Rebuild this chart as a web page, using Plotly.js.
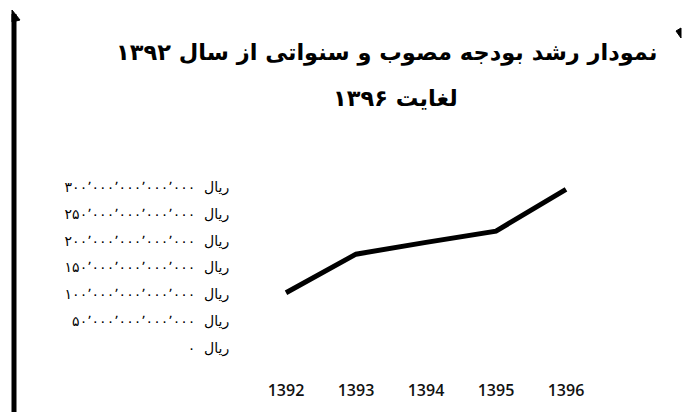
<!DOCTYPE html>
<html>
<head>
<meta charset="utf-8">
<script src="https://cdn.plot.ly/plotly-3.0.1.min.js"></script>
<style>html,body{margin:0;padding:0;background:#fff;}#chart{width:684px;height:412px;}</style>
</head>
<body>
<div id="chart"></div>
<script>
const years = ["1392", "1393", "1394", "1395", "1396"];
const budget = [103, 175, 197, 218, 296];
const yTickVals = [0, 50, 100, 150, 200, 250, 300];
const yTickText = [
  "ریال\u00a0\u00a0۰",
  "ریال\u00a0\u00a0۵۰٬۰۰۰٬۰۰۰٬۰۰۰٬۰۰۰",
  "ریال\u00a0\u00a0۱۰۰٬۰۰۰٬۰۰۰٬۰۰۰٬۰۰۰",
  "ریال\u00a0\u00a0۱۵۰٬۰۰۰٬۰۰۰٬۰۰۰٬۰۰۰",
  "ریال\u00a0\u00a0۲۰۰٬۰۰۰٬۰۰۰٬۰۰۰٬۰۰۰",
  "ریال\u00a0\u00a0۲۵۰٬۰۰۰٬۰۰۰٬۰۰۰٬۰۰۰",
  "ریال\u00a0\u00a0۳۰۰٬۰۰۰٬۰۰۰٬۰۰۰٬۰۰۰"
];
const titleLine1 = "نمودار رشد بودجه مصوب و سنواتی از سال ۱۳۹۲";
const titleLine2 = "لغایت ۱۳۹۶";

const trace = {
  x: years, y: budget, type: "scatter", mode: "lines",
  line: {color: "#000", width: 5}, hoverinfo: "skip"
};

const titleFont = {family: "DejaVu Sans", size: 22.5, color: "#000"};

const layout = {
  width: 684, height: 412,
  paper_bgcolor: "#fff", plot_bgcolor: "#fff",
  margin: {l: 251, r: 83, t: 170, b: 52},
  showlegend: false,
  xaxis: {
    type: "category", range: [-0.5, 4.5],
    showgrid: false, zeroline: false, showline: false,
    ticks: "outside", ticklen: 16, tickcolor: "rgba(0,0,0,0)",
    tickfont: {family: "Open Sans", size: 16, color: "#111", weight: 600}
  },
  yaxis: {
    range: [-22.4, 332],
    tickvals: yTickVals, ticktext: yTickText,
    showgrid: false, zeroline: false, showline: false,
    ticks: "outside", ticklen: 18, tickcolor: "rgba(0,0,0,0)",
    tickfont: {family: "DejaVu Sans", size: 14, color: "#000"}
  },
  annotations: [
    {text: "<b>" + titleLine1 + "</b>", xref: "paper", yref: "paper",
     x: (386 - 251) / 350, y: (360 - 52) / 190, xanchor: "center", yanchor: "middle",
     showarrow: false, font: titleFont},
    {text: "<b>" + titleLine2 + "</b>", xref: "paper", yref: "paper",
     x: (395 - 251) / 350, y: (360 - 98) / 190, xanchor: "center", yanchor: "middle",
     showarrow: false, font: titleFont}
  ],
  shapes: [
    {type: "line", xref: "paper", yref: "paper", x0: (14 - 251) / 350, x1: (14 - 251) / 350,
     y0: (360 - 412) / 190, y1: (360 - 14) / 190,
     line: {color: "#000", width: 5}},
    {type: "path", xref: "paper", yref: "paper",
     path: "M " + ((12 - 251) / 350) + " " + ((360 - 10) / 190) +
           " L " + ((20 - 251) / 350) + " " + ((360 - 20) / 190) +
           " L " + ((12 - 251) / 350) + " " + ((360 - 22) / 190) + " Z",
     fillcolor: "#000", line: {color: "#000", width: 1}},
    {type: "path", xref: "paper", yref: "paper",
     path: "M " + ((676 - 251) / 350) + " " + ((360 - 31) / 190) +
           " L " + ((681 - 251) / 350) + " " + ((360 - 28) / 190) +
           " L " + ((681 - 251) / 350) + " " + ((360 - 38) / 190) + " Z",
     fillcolor: "#000", line: {color: "#000", width: 1}}
  ]
};

Plotly.newPlot("chart", [trace], layout, {staticPlot: true, displayModeBar: false});
</script>
</body>
</html>
